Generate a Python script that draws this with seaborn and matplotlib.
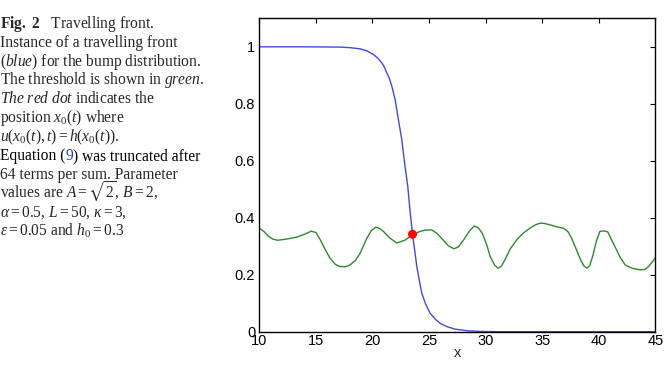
import matplotlib
matplotlib.use('Agg')
import matplotlib.pyplot as plt
import seaborn as sns

###
#   DATA
###
# travelling front u(x, t), blue
x_front = [10, 14, 17.1, 18.0, 18.9, 19.5, 20.08, 20.45, 20.82, 21.05, 21.26, 21.5,
           21.71, 22.0, 22.29, 22.59, 22.88, 23.12, 23.33, 23.54, 23.75, 23.92,
           24.15, 24.36, 24.7, 25.09, 25.6, 26.0, 26.57, 27.3, 28.34, 29.5, 31, 45]
u_front = [1.0, 1.0, 0.999, 0.997, 0.993, 0.986, 0.973, 0.961, 0.944, 0.929, 0.909, 0.888,
           0.862, 0.815, 0.745, 0.674, 0.58, 0.51, 0.42, 0.342, 0.28, 0.229,
           0.178, 0.135, 0.097, 0.065, 0.042, 0.029, 0.018, 0.009, 0.0035, 0.001, 0.0, 0.0]

# threshold h(x), green
x_thresh = [10, 10.4, 10.8, 11.2, 11.6, 12.4, 13.3, 14.0, 14.6, 15.0, 15.4, 15.8,
            16.25, 16.7, 17.1, 17.6, 18.0, 18.5, 18.9, 19.5, 19.9, 20.3, 20.6,
            20.97, 21.5, 22.15, 22.9, 23.54, 24.2, 24.7, 25.25, 25.7, 26.1, 26.7,
            27.2, 27.6, 28.05, 28.6, 29.0, 29.35, 29.7, 30.1, 30.4, 30.8, 31.1,
            31.4, 31.7, 32.2, 32.8, 33.3, 33.9, 34.4, 34.8, 35.2, 35.7, 36.3,
            36.9, 37.3, 37.6, 38.0, 38.4, 38.7, 38.96, 39.2, 39.5, 39.8, 40.1,
            40.45, 40.8, 41.1, 41.5, 41.9, 42.35, 43.0, 43.7, 44.1, 44.4, 44.7, 45]
h_thresh = [0.363, 0.352, 0.335, 0.325, 0.321, 0.325, 0.332, 0.342, 0.353, 0.348, 0.322, 0.29,
            0.258, 0.237, 0.229, 0.228, 0.234, 0.25, 0.275, 0.328, 0.355, 0.367, 0.363,
            0.352, 0.33, 0.311, 0.322, 0.34, 0.352, 0.357, 0.357, 0.345, 0.328, 0.302,
            0.291, 0.298, 0.322, 0.355, 0.371, 0.365, 0.346, 0.305, 0.264, 0.233, 0.223,
            0.23, 0.252, 0.292, 0.325, 0.345, 0.363, 0.375, 0.381, 0.38, 0.375, 0.368,
            0.363, 0.35, 0.328, 0.29, 0.252, 0.23, 0.223, 0.232, 0.27, 0.32, 0.352,
            0.354, 0.35, 0.325, 0.293, 0.26, 0.234, 0.222, 0.217, 0.219, 0.229, 0.243, 0.26]

# crossing point x0(t)
x0 = [23.54]
u0 = [0.342]

x_ticks = [10, 15, 20, 25, 30, 35, 40, 45]
y_ticks = [0, 0.2, 0.4, 0.6, 0.8, 1]
y_ticklabels = ['0', '0.2', '0.4', '0.6', '0.8', '1']

###
#   STYLE
###
sns.set_style('white')
plt.rcParams['font.family'] = ['Liberation Sans', 'DejaVu Sans']
plt.rcParams['mathtext.fontset'] = 'custom'
plt.rcParams['mathtext.rm'] = 'Liberation Serif'
plt.rcParams['mathtext.it'] = 'Liberation Serif:italic'
plt.rcParams['mathtext.bf'] = 'Liberation Serif:bold'
plt.rcParams['mathtext.fallback'] = 'stix'

fig = plt.figure(figsize=(6.67, 3.76), dpi=100)
ax = fig.add_axes([0.3888, 0.1178, 0.5937, 0.8335])

sns.lineplot(x=x_front, y=u_front, ax=ax, color='#4646e6', linewidth=1.0,
             estimator=None, sort=False)
sns.lineplot(x=x_thresh, y=h_thresh, ax=ax, color='#2b8a2b', linewidth=1.0,
             estimator=None, sort=False)
sns.scatterplot(x=x0, y=u0, ax=ax, color='#ff0000', s=42, edgecolor='none', zorder=5)

ax.set_xlim(10, 45)
ax.set_ylim(0, 1.1)
ax.set_xticks(x_ticks)
ax.set_yticks(y_ticks)
ax.set_yticklabels(y_ticklabels)
ax.tick_params(direction='in', length=3.5, width=0.8, colors='black', labelsize=10.5,
               top=True, right=True, pad=1.5)
ax.tick_params(axis='y', pad=3)
for sp in ax.spines.values():
    sp.set_color('black')
    sp.set_linewidth(1.0)
ax.set_xlabel('x', fontsize=10.5, labelpad=-1)
ax.set_ylabel('')

###
#   CAPTION
###
cap = dict(fontsize=11.2, family='Liberation Serif', va='baseline', ha='left')
lines = [
    r'$\mathbf{Fig.\ 2}$   Travelling front.',
    'Instance of a travelling front',
    r'($\mathit{blue}$) for the bump distribution.',
    r'The threshold is shown in $\mathit{green}$.',
    r'$\mathit{The\ red\ dot}$ indicates the',
    r'position $x_0(t)$ where',
    r'$u(x_0(t),t) = h(x_0(t))$.',
    None,
    '64 terms per sum. Parameter',
    r'values are $A = \sqrt{2}$, $B = 2$,',
    r'$\alpha = 0.5$, $L = 50$, $\kappa = 3$,',
    r'$\epsilon = 0.05$ and $h_0 = 0.3$',
]
base = 27.7
step = 18.9
for i, s in enumerate(lines):
    if s is None:
        continue
    fig.text(0.0, 1 - (base + i * step) / 376, s, **cap)

# line with the blue equation number, built from pieces
renderer = fig.canvas.get_renderer()
y8 = 1 - (base + 7 * step) / 376
xpos = 0.0
for piece, col in [('Equation (', 'black'), ('9', '#2b3fbf'), (') was truncated after', 'black')]:
    t = fig.text(xpos, y8, piece, color=col, **cap)
    bb = t.get_window_extent(renderer=renderer)
    xpos = bb.x1 / fig.bbox.width

fig.savefig('out.png', dpi=100)
